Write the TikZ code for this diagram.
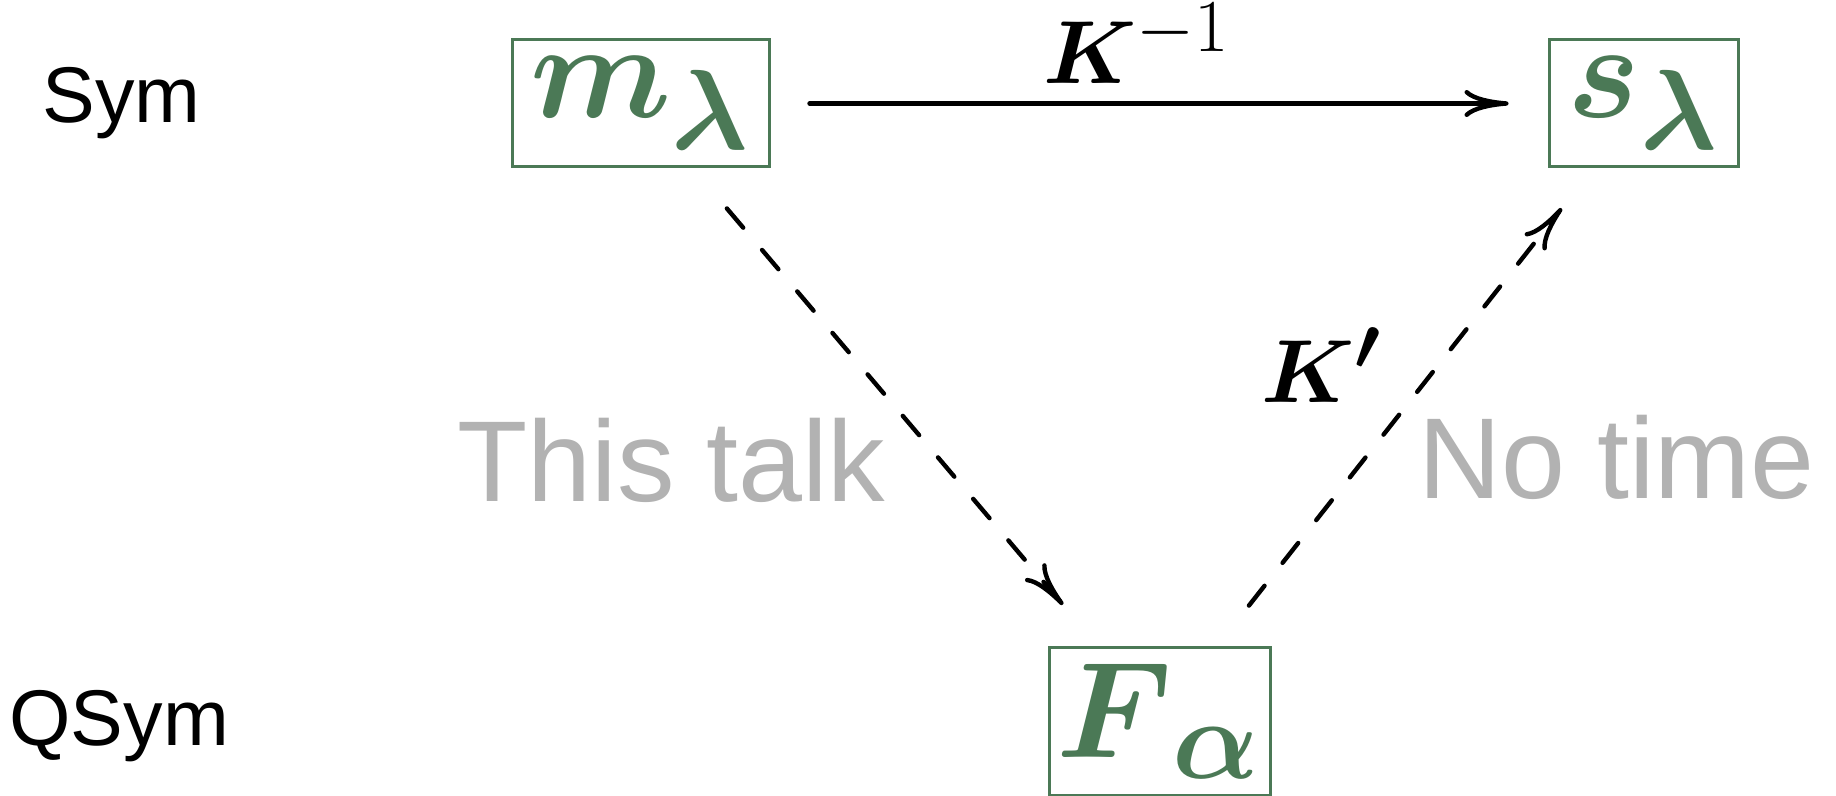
\documentclass[tikz,border=0pt]{standalone}
\usepackage{amsmath}
\usepackage{graphicx}
\usepackage{fontspec}
\newfontfamily\labelfont{Liberation Sans}
\usetikzlibrary{arrows.meta}
\definecolor{boxgreen}{RGB}{75,121,86}
\definecolor{softgray}{RGB}{178,178,178}
\tikzset{
  sbox/.style={draw=boxgreen, line width=1.5pt, text=boxgreen, inner sep=0pt, anchor=center},
  rowlabel/.style={font=\labelfont\fontsize{39.5}{46}\selectfont, inner sep=0pt, anchor=base west},
  note/.style={font=\labelfont\fontsize{57.5}{66}\selectfont, text=softgray, inner sep=0pt, anchor=base west},
  maplabel/.style={inner sep=0pt, anchor=base west},
  conn/.style={line width=2.2pt, line cap=round, -{Computer Modern Rightarrow[length=22pt,width=13.5pt]}},
  dashconn/.style={conn, dash pattern=on 12.6pt off 14.6pt},
}
\begin{document}
\begin{tikzpicture}[x=0.5pt,y=-0.5pt]
\useasboundingbox (0,0) rectangle (1836,796);
% row labels
\node[rowlabel] (sym) at (42,123) {Sym};
\node[rowlabel] (qsym) at (9,745) {QSym};
% boxes
\node[sbox, minimum width=128.5pt, minimum height=63.5pt] (m) at (640.5,103.5)
  {\scalebox{2.75}{\Huge$\boldsymbol{m}_{\boldsymbol{\lambda}}$}};
\node[sbox, minimum width=94.5pt, minimum height=63.5pt] (s) at (1643.5,103.5)
  {\scalebox{2.75}{\Huge$\boldsymbol{s}_{\boldsymbol{\lambda}}$}};
\node[sbox, minimum width=110.5pt, minimum height=74pt] (F) at (1159.5,721)
  {\scalebox{2.75}{\Huge$\boldsymbol{F}_{\boldsymbol{\alpha}}$}};
% connectors
\draw[conn, shorten <=19.5pt, shorten >=19.5pt] (m) -- (s);
\draw[dashconn, shorten <=26.2pt, shorten >=26.8pt] ([shift={(52.5,0)}]m.south) -- ([shift={(-62,0)}]F.north);
\draw[dashconn, shorten <=25.4pt, shorten >=25.4pt] ([shift={(58,0)}]F.north) -- ([shift={(-50.5,0)}]s.south);
% map labels
\node[maplabel] (kinv) at (1043,84) {\scalebox{1.8}{\Huge$\boldsymbol{K}^{-1}$}};
\node[maplabel] (kprime) at (1261,402) {\scalebox{1.8}{\Huge$\boldsymbol{K'}$}};
% notes
\node[note] (thistalk) at (457,502) {This talk};
\node[note] (notime) at (1418,498) {No time};
\end{tikzpicture}
\end{document}
